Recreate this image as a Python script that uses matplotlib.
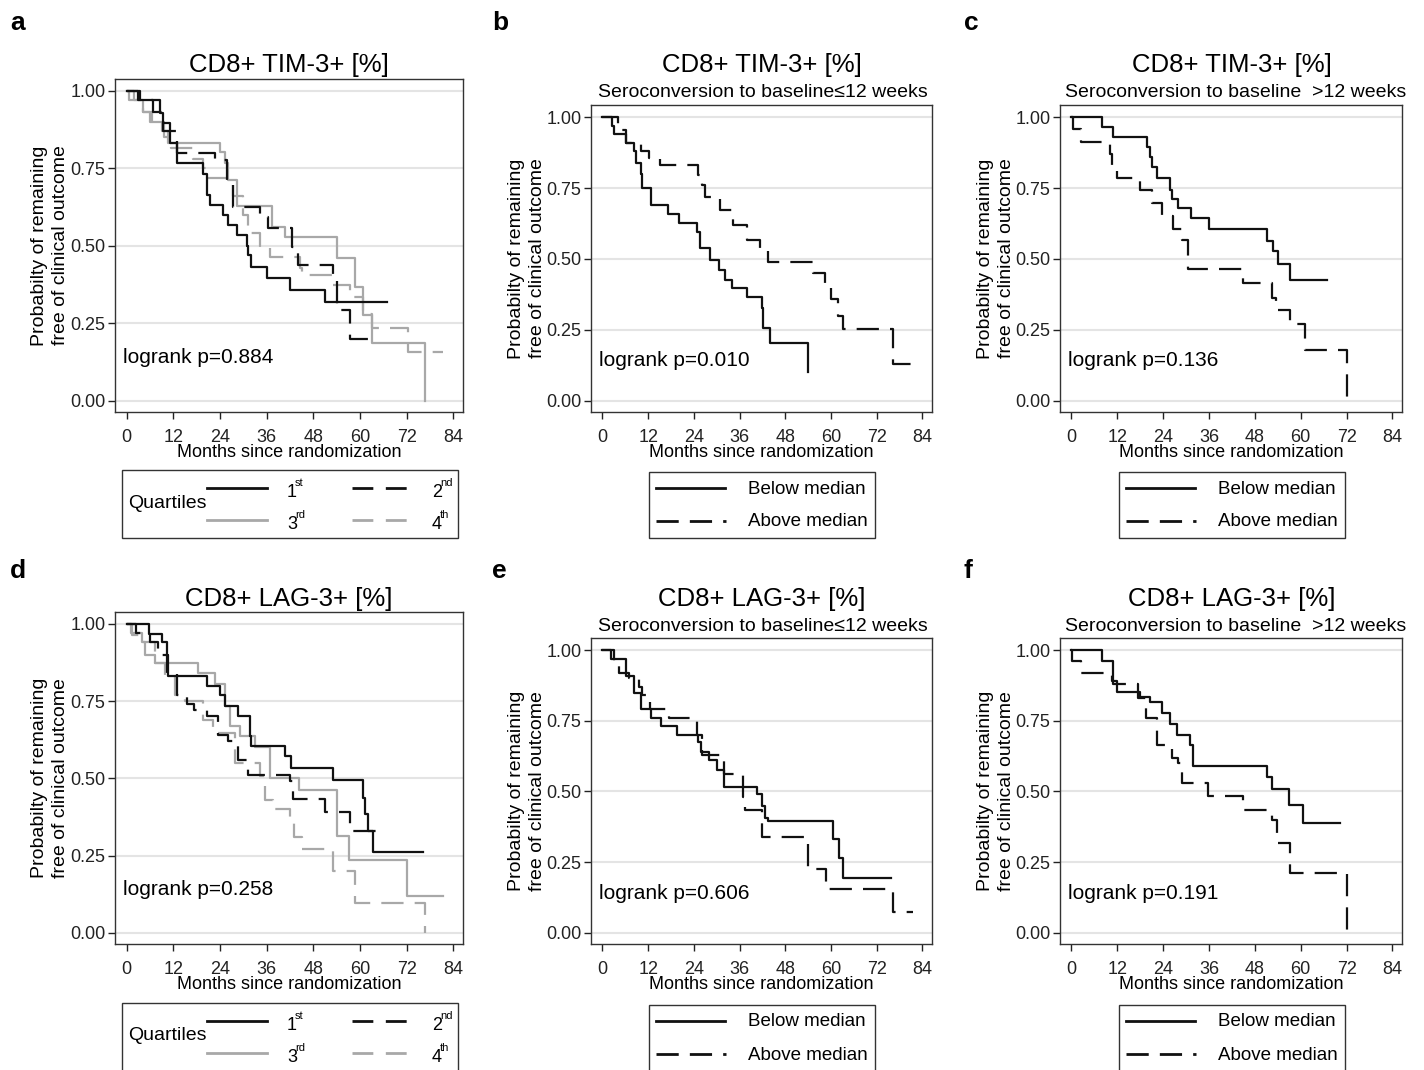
import numpy as np
import matplotlib.pyplot as plt
from matplotlib.patches import Rectangle

plt.rcParams['font.family'] = ['Liberation Sans', 'DejaVu Sans']
plt.rcParams['lines.scale_dashes'] = False

W, H = 1424, 1070
BLACK = '#111111'
GRAY = '#a8a8a8'
DASH = (0, (16, 8))

# ---- panel a : CD8+ TIM-3+ quartiles ----
a_q1_t = [0, 3.5, 8.6, 9.4, 11.1, 12.9, 19.7, 20.6, 21.4, 24.9, 26.1, 28.3, 30.9, 31.3, 32.1, 36.0, 42.0, 51.0, 66.9]
a_q1_s = [1, 0.969, 0.928, 0.895, 0.83, 0.766, 0.73, 0.664, 0.632, 0.60, 0.567, 0.535, 0.50, 0.47, 0.433, 0.395, 0.357, 0.32, 0.32]
a_q2_t = [0, 2.9, 6.9, 9.4, 12.9, 22.7, 25.7, 27.4, 34.3, 36.4, 42.4, 44.1, 53.1, 54.0, 57.4, 62.1]
a_q2_s = [1, 0.97, 0.93, 0.87, 0.80, 0.777, 0.70, 0.626, 0.594, 0.557, 0.497, 0.438, 0.406, 0.293, 0.198, 0.198]
a_q3_t = [0, 0.5, 4.3, 6.0, 9.0, 10.7, 24.0, 25.3, 26.1, 28.3, 37.3, 40.7, 54.2, 58.7, 60.9, 63.0, 76.7]
a_q3_s = [1, 0.969, 0.93, 0.90, 0.87, 0.83, 0.804, 0.766, 0.713, 0.629, 0.562, 0.53, 0.46, 0.368, 0.277, 0.185, 0.0]
a_q4_t = [0, 2.0, 4.3, 6.4, 9.5, 11.5, 17.1, 19.7, 20.6, 27.4, 30.0, 31.3, 34.3, 36.9, 44.6, 45.0, 53.1, 57.4, 60.9, 63.0, 72.4, 81.4]
a_q4_s = [1, 0.97, 0.93, 0.90, 0.85, 0.815, 0.78, 0.75, 0.718, 0.66, 0.60, 0.54, 0.497, 0.465, 0.427, 0.406, 0.373, 0.336, 0.28, 0.234, 0.158, 0.158]

# ---- panel b : TIM-3, seroconversion <=12 weeks ----
b_lo_t = [0, 2.6, 3.0, 6.1, 8.3, 8.7, 10.0, 10.4, 12.8, 17.1, 20.0, 24.8, 25.7, 28.3, 30.5, 32.2, 33.9, 37.9, 41.8, 42.2, 44.1, 54.0]
b_lo_s = [1, 0.97, 0.94, 0.91, 0.88, 0.84, 0.80, 0.75, 0.69, 0.66, 0.626, 0.596, 0.54, 0.496, 0.46, 0.426, 0.396, 0.364, 0.326, 0.255, 0.202, 0.102]
b_hi_t = [0, 4.1, 5.0, 6.1, 10.0, 12.2, 15.2, 25.2, 26.1, 27.0, 30.9, 34.4, 37.9, 41.3, 43.5, 55.3, 58.3, 60.0, 61.8, 63.1, 76.2, 80.9]
b_hi_s = [1, 0.97, 0.955, 0.91, 0.88, 0.855, 0.83, 0.796, 0.76, 0.72, 0.673, 0.62, 0.567, 0.54, 0.49, 0.45, 0.40, 0.36, 0.30, 0.252, 0.128, 0.128]

# ---- panel c : TIM-3, seroconversion >12 weeks ----
c_lo_t = [0, 8.0, 10.9, 19.7, 20.5, 21.0, 22.3, 25.8, 26.2, 27.9, 31.4, 36.1, 51.1, 52.7, 54.1, 57.2, 66.8]
c_lo_s = [1, 0.965, 0.929, 0.896, 0.86, 0.825, 0.784, 0.743, 0.713, 0.678, 0.643, 0.604, 0.564, 0.528, 0.481, 0.425, 0.425]
c_hi_t = [0, 0.3, 2.6, 10.0, 10.5, 11.8, 17.9, 21.0, 23.6, 26.6, 28.8, 30.6, 45.0, 52.4, 53.5, 57.2, 61.1, 72.0]
c_hi_s = [1, 0.96, 0.914, 0.87, 0.825, 0.784, 0.743, 0.696, 0.65, 0.607, 0.566, 0.466, 0.416, 0.362, 0.32, 0.271, 0.177, 0.0]

# ---- panel d : CD8+ LAG-3+ quartiles ----
d_q1_t = [0, 5.8, 9.0, 10.3, 10.7, 20.7, 24.0, 25.3, 28.7, 31.7, 32.1, 40.7, 42.2, 53.1, 60.7, 61.3, 62.1, 63.4, 76.1]
d_q1_s = [1, 0.967, 0.94, 0.90, 0.832, 0.80, 0.77, 0.735, 0.70, 0.636, 0.603, 0.571, 0.533, 0.494, 0.436, 0.383, 0.329, 0.26, 0.26]
d_q2_t = [0, 2.5, 5.9, 8.1, 10.3, 12.9, 15.4, 17.3, 20.6, 23.6, 26.0, 28.7, 31.3, 42.0, 42.9, 50.9, 57.4, 58.3, 64.3]
d_q2_s = [1, 0.97, 0.94, 0.90, 0.84, 0.77, 0.74, 0.72, 0.70, 0.64, 0.62, 0.56, 0.51, 0.49, 0.434, 0.39, 0.35, 0.329, 0.329]
d_q3_t = [0, 1.0, 3.9, 4.7, 7.3, 18.4, 22.7, 25.3, 26.5, 29.2, 33.0, 36.9, 44.4, 54.0, 57.1, 72.0, 81.4]
d_q3_s = [1, 0.97, 0.94, 0.90, 0.873, 0.84, 0.806, 0.733, 0.67, 0.636, 0.60, 0.50, 0.463, 0.312, 0.237, 0.119, 0.119]
d_q4_t = [0, 1.3, 4.3, 7.3, 9.9, 12.4, 15.0, 19.7, 22.3, 27.9, 34.3, 35.6, 37.7, 42.0, 43.0, 45.0, 53.0, 58.7, 76.7]
d_q4_s = [1, 0.965, 0.94, 0.873, 0.83, 0.77, 0.75, 0.69, 0.647, 0.55, 0.506, 0.43, 0.40, 0.37, 0.31, 0.27, 0.20, 0.097, 0.0]

# ---- panel e : LAG-3, seroconversion <=12 weeks ----
e_lo_t = [0, 2.2, 6.1, 8.3, 10.0, 12.8, 15.4, 19.6, 25.2, 25.8, 27.9, 30.0, 31.8, 40.5, 41.8, 42.6, 43.5, 60.5, 62.2, 63.1, 75.7]
e_lo_s = [1, 0.97, 0.91, 0.85, 0.79, 0.76, 0.73, 0.70, 0.676, 0.64, 0.61, 0.576, 0.517, 0.49, 0.447, 0.406, 0.394, 0.33, 0.265, 0.194, 0.194]
e_hi_t = [0, 3.0, 4.3, 7.0, 9.6, 10.4, 12.6, 17.4, 24.8, 26.1, 31.8, 37.0, 37.4, 41.8, 54.0, 58.7, 76.2, 81.4]
e_hi_s = [1, 0.96, 0.92, 0.90, 0.87, 0.84, 0.79, 0.76, 0.70, 0.63, 0.56, 0.48, 0.435, 0.34, 0.226, 0.153, 0.073, 0.073]

# ---- panel f : LAG-3, seroconversion >12 weeks ----
f_lo_t = [0, 8.0, 10.9, 11.8, 17.9, 20.5, 23.6, 25.8, 27.5, 31.0, 31.9, 51.1, 52.4, 56.8, 60.7, 70.3]
f_lo_s = [1, 0.962, 0.88, 0.853, 0.835, 0.817, 0.776, 0.74, 0.70, 0.664, 0.59, 0.552, 0.51, 0.452, 0.39, 0.39]
f_hi_t = [0, 0.2, 2.6, 10.5, 11.8, 17.5, 19.5, 22.3, 26.2, 27.9, 28.8, 35.8, 45.0, 52.4, 53.7, 54.1, 57.2, 72.0]
f_hi_s = [1, 0.96, 0.92, 0.89, 0.88, 0.83, 0.76, 0.664, 0.62, 0.60, 0.53, 0.485, 0.434, 0.40, 0.35, 0.316, 0.21, 0.0]

pvals = ['0.884', '0.010', '0.136', '0.258', '0.606', '0.191']
xticks = [0, 12, 24, 36, 48, 60, 72, 84]
yticks = [0, 0.25, 0.5, 0.75, 1.0]
ytick_labels = ['0.00', '0.25', '0.50', '0.75', '1.00']


def rect(x0, y0, x1, y1):
    return [x0 / W, 1 - y1 / H, (x1 - x0) / W, (y1 - y0) / H]


def setup(ax, ylim, pval):
    ax.set_xlim(-3, 86.5)
    ax.set_ylim(*ylim)
    ax.set_xticks(xticks)
    ax.set_yticks(yticks)
    ax.set_yticklabels(ytick_labels)
    ax.yaxis.grid(True, color='#e4e4e4', lw=1.5)
    ax.set_axisbelow(True)
    ax.tick_params(direction='out', length=5, width=1, colors='#222222', labelsize=13)
    ax.tick_params(axis='x', pad=7)
    ax.tick_params(axis='y', pad=2)
    for sp in ax.spines.values():
        sp.set_color('#333333')
        sp.set_linewidth(1)
    ax.set_xlabel('Months since randomization', fontsize=13, labelpad=-1)
    ax.set_ylabel('Probabilty of remaining\nfree of clinical outcome', fontsize=14, linespacing=1.3)
    ax.yaxis.set_label_coords(-0.132, 0.5)
    ax.text(-1, 0.14, 'logrank p=' + pval, fontsize=15, va='center')


fig = plt.figure(figsize=(W / 100, H / 100), dpi=100)
fig.patch.set_facecolor('white')

ax_a = fig.add_axes(rect(115, 79, 463, 412))
ax_b = fig.add_axes(rect(591, 105, 932, 412))
ax_c = fig.add_axes(rect(1060, 105, 1402, 412))
ax_d = fig.add_axes(rect(115, 612, 463, 944))
ax_e = fig.add_axes(rect(591, 638, 932, 944))
ax_f = fig.add_axes(rect(1060, 638, 1402, 944))

lw = 1.6
# quartile panels
for ax, curves in [(ax_a, [(a_q3_t, a_q3_s), (a_q4_t, a_q4_s), (a_q1_t, a_q1_s), (a_q2_t, a_q2_s)]),
                   (ax_d, [(d_q3_t, d_q3_s), (d_q4_t, d_q4_s), (d_q1_t, d_q1_s), (d_q2_t, d_q2_s)])]:
    styles = [(GRAY, '-'), (GRAY, DASH), (BLACK, '-'), (BLACK, DASH)]
    for (t, s), (c, ls) in zip(curves, styles):
        ax.step(t, s, where='post', color=c, lw=lw, linestyle=ls)

# median panels
for ax, lo, hi in [(ax_b, (b_lo_t, b_lo_s), (b_hi_t, b_hi_s)),
                   (ax_c, (c_lo_t, c_lo_s), (c_hi_t, c_hi_s)),
                   (ax_e, (e_lo_t, e_lo_s), (e_hi_t, e_hi_s)),
                   (ax_f, (f_lo_t, f_lo_s), (f_hi_t, f_hi_s))]:
    ax.step(lo[0], lo[1], where='post', color=BLACK, lw=lw)
    ax.step(hi[0], hi[1], where='post', color=BLACK, lw=lw, linestyle=DASH)

setup(ax_a, (-0.036, 1.038), pvals[0])
setup(ax_b, (-0.040, 1.043), pvals[1])
setup(ax_c, (-0.040, 1.043), pvals[2])
setup(ax_d, (-0.036, 1.038), pvals[3])
setup(ax_e, (-0.040, 1.043), pvals[4])
setup(ax_f, (-0.040, 1.043), pvals[5])

# overlay in pixel coordinates for titles and legends
ov = fig.add_axes([0, 0, 1, 1])
ov.set_xlim(0, W)
ov.set_ylim(H, 0)
ov.axis('off')
ov.patch.set_alpha(0)

for x, y, letter in [(10, 30, 'a'), (492, 30, 'b'), (964, 30, 'c'),
                     (10, 578, 'd'), (492, 578, 'e'), (964, 578, 'f')]:
    ov.text(x, y, letter, fontsize=19, fontweight='bold', va='baseline')

for dy, name in [(0, 'CD8+ TIM-3+ [%]'), (534, 'CD8+ LAG-3+ [%]')]:
    ov.text(289, 72 + dy, name, fontsize=18.5, ha='center', va='baseline')
    ov.text(762, 72 + dy, name, fontsize=18.5, ha='center', va='baseline')
    ov.text(1232, 72 + dy, name, fontsize=18.5, ha='center', va='baseline')
    ov.text(763, 97 + dy, 'Seroconversion to baseline\u226412 weeks', fontsize=14, ha='center', va='baseline')
    ov.text(1236, 97 + dy, 'Seroconversion to baseline  >12 weeks', fontsize=14, ha='center', va='baseline')

# quartile legends
for dy in [0, 533]:
    ov.add_patch(Rectangle((122, 470 + dy), 336, 68, fill=False, ec='#333333', lw=1, clip_on=False))
    ov.text(128, 503 + dy, 'Quartiles', fontsize=14, va='center')
    rows = [(488, BLACK, '1', 'st', BLACK, '2', 'nd'), (520, GRAY, '3', 'rd', GRAY, '4', 'th')]
    for ly, c1, n1, s1, c2, n2, s2 in rows:
        ov.plot([207, 267], [ly + dy] * 2, color=c1, lw=2)
        ov.plot([352, 407], [ly + dy] * 2, color=c2, lw=2, linestyle=(0, (15, 9)))
        base = ly + dy + 9
        ov.text(287, base, n1, fontsize=13, va='baseline')
        ov.text(295, base - 11, s1, fontsize=8, va='baseline')
        ov.text(432, base, n2, fontsize=13, va='baseline')
        ov.text(440, base - 11, s2, fontsize=8, va='baseline')

# median legends
for dx, dy in [(0, 0), (470, 0), (0, 533), (470, 533)]:
    ov.add_patch(Rectangle((649 + dx, 472 + dy), 226, 66, fill=False, ec='#333333', lw=1, clip_on=False))
    ov.plot([656 + dx, 725 + dx], [488 + dy] * 2, color=BLACK, lw=2)
    ov.plot([656 + dx, 726 + dx], [521 + dy] * 2, color=BLACK, lw=2, linestyle=(0, (16, 8)))
    ov.text(748 + dx, 489 + dy, 'Below median', fontsize=13.5, va='center')
    ov.text(748 + dx, 522 + dy, 'Above median', fontsize=13.5, va='center')

fig.savefig('out.png', dpi=100)
